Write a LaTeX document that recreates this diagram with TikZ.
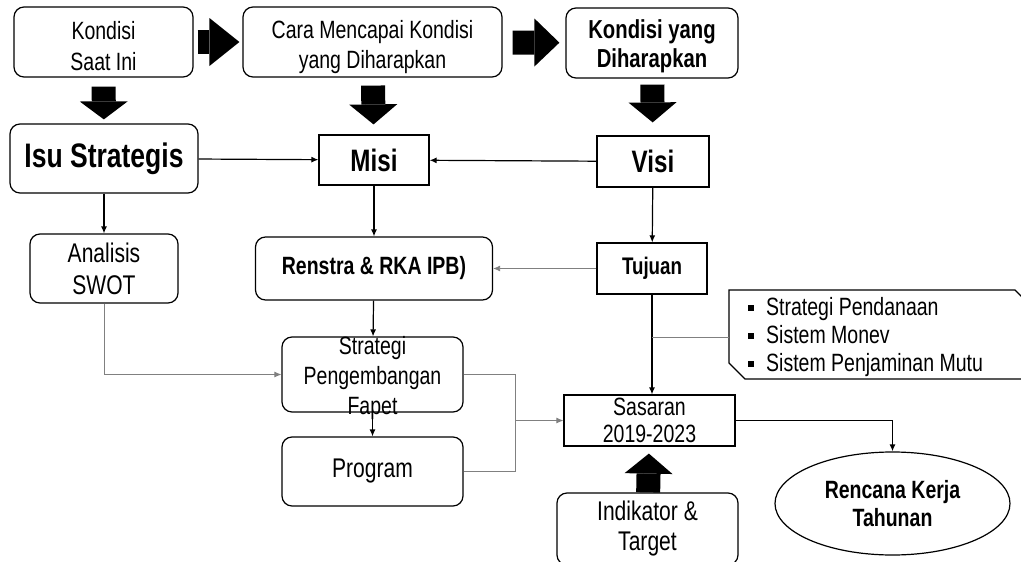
\documentclass[tikz,border=0pt]{standalone}
\usepackage{fontspec}
\setmainfont{Liberation Sans}[FakeStretch=0.78]
\usetikzlibrary{arrows.meta,shapes.geometric}

\begin{document}
\begin{tikzpicture}[x=1pt,y=-1pt,>={Latex[length=7pt,width=6pt]},
  kotak/.style={draw,line width=1.2pt,rounded corners=10pt,align=center,inner sep=1pt},
  persegi/.style={draw,line width=1.2pt,align=center,inner sep=1pt},
  garis/.style={line width=1.2pt,->},
  tipis/.style={draw=gray,line width=0.8pt},
  panah/.style={line width=24pt,-{Triangle[length=#1,width=48pt,line width=0pt]}},
  panah/.default=20pt]
  \useasboundingbox (0,0) rectangle (1021,562);
  % Draw top row
  \node[kotak,minimum width=179pt,minimum height=70pt,font=\fontsize{25}{31}\selectfont] (kini) at (103.5,42) {\rule{0pt}{26pt}Kondisi\\Saat Ini};
  \node[kotak,minimum width=259pt,minimum height=70pt,font=\fontsize{25}{30}\selectfont] (cara) at (372.5,42) {\rule{0pt}{28pt}Cara Mencapai Kondisi\\yang Diharapkan};
  \node[kotak,minimum width=172pt,minimum height=70pt,font=\fontsize{26}{29}\selectfont\bfseries] (harap) at (652,43) {\rule{0pt}{25pt}Kondisi yang\\Diharapkan};
  % Draw second row
  \node[kotak,minimum width=188pt,minimum height=69pt,font=\fontsize{34}{36}\selectfont\bfseries] (isu) at (104,158.5) {Isu Strategis};
  \node[persegi,minimum width=110pt,minimum height=50pt,font=\fontsize{31}{34}\selectfont\bfseries] (misi) at (374,160) {Misi};
  \node[persegi,minimum width=112pt,minimum height=51pt,font=\fontsize{31}{34}\selectfont\bfseries] (visi) at (653,161.5) {Visi};
  % Draw third row
  \node[kotak,minimum width=148pt,minimum height=69pt,font=\fontsize{27}{32}\selectfont] (swot) at (104,268.5) {Analisis\\SWOT};
  \node[kotak,minimum width=237pt,minimum height=63pt,font=\fontsize{25}{28}\selectfont\bfseries] (renstra) at (374,268.5) {Renstra \& RKA IPB)};
  \node[persegi,minimum width=110pt,minimum height=51pt,font=\fontsize{24}{28}\selectfont\bfseries] (tujuan) at (652,268.5) {Tujuan};
  % Draw bullet list box
  \node[anchor=west,inner xsep=19pt,align=left,font=\fontsize{25}{28}\selectfont] (poin) at (729,337)
    {\rule[4pt]{6pt}{6pt}\hspace{12pt}Strategi Pendanaan\\
     \rule[4pt]{6pt}{6pt}\hspace{12pt}Sistem Monev\\
     \rule[4pt]{6pt}{6pt}\hspace{12pt}Sistem Penjaminan Mutu};
  \draw[line width=1.2pt] (1035,310) -- (1015,290) -- (729,290) -- (729,363) -- (745,379) -- (1035,379);
  % Draw lower part
  \node[kotak,minimum width=181pt,minimum height=75pt,font=\fontsize{25}{30}\selectfont] (strategi) at (372.5,374.5)
    {\smash{\raisebox{-10pt}{\begin{tabular}{@{}c@{}}Strategi\\Pengembangan\\Fapet\end{tabular}}}};
  \node[kotak,minimum width=181pt,minimum height=69pt,font=\fontsize{27}{31}\selectfont] (program) at (372.5,471.5) {Program};
  \node[persegi,minimum width=171pt,minimum height=51pt,font=\fontsize{25}{27}\selectfont] (sasaran) at (649.5,420.5) {Sasaran\\2019-2023};
  \node[kotak,minimum width=181pt,minimum height=72pt,font=\fontsize{27}{30}\selectfont] (indikator) at (647.5,529) {Indikator \&\\Target};
  \node[ellipse,draw,line width=1.2pt,minimum width=235pt,minimum height=103pt,align=center,font=\fontsize{25}{28}\selectfont\bfseries] (rencana) at (892.5,503.5) {Rencana Kerja\\Tahunan};
  % Draw block arrows
  \draw[panah=30pt,shorten <=4pt,shorten >=3pt] (kini) -- (cara);
  \draw[panah=25pt,shorten <=10pt,shorten >=6pt] (cara) -- (harap);
  \draw[panah=18pt,shorten <=9pt,shorten >=4pt] (kini) -- (isu);
  \draw[panah,shorten <=8pt,shorten >=10pt] (cara) -- (misi);
  \draw[panah,shorten <=6pt,shorten >=13pt] (harap) -- (visi);
  \draw[panah,shorten >=7pt] (indikator) -- (sasaran);
  % Draw connectors
  \draw[garis] (isu) -- (misi);
  \draw[garis] (visi) -- (misi);
  \draw[garis] (isu) -- (swot);
  \draw[garis] (misi) -- (renstra);
  \draw[garis] (visi) -- (tujuan);
  \draw[tipis,->] (tujuan) -- (renstra);
  \draw[garis] (tujuan.south) -- (tujuan.south |- sasaran.north);
  \draw[tipis] (tujuan.south |- poin.west) -- (poin.west);
  \draw[garis] (renstra) -- (strategi);
  \draw[garis] (strategi) -- (program);
  \draw[tipis,->] (swot.south) |- (strategi.west);
  \path (strategi.east) -- ++(52,0) coordinate (belok);
  \coordinate (gabung) at (belok |- sasaran.west);
  \draw[tipis] (strategi.east) -| (gabung) |- (program.east);
  \draw[tipis,->] (gabung) -- (sasaran.west);
  \draw[line width=1.6pt,->] (sasaran.east) -| (rencana.north);
\end{tikzpicture}
\end{document}
